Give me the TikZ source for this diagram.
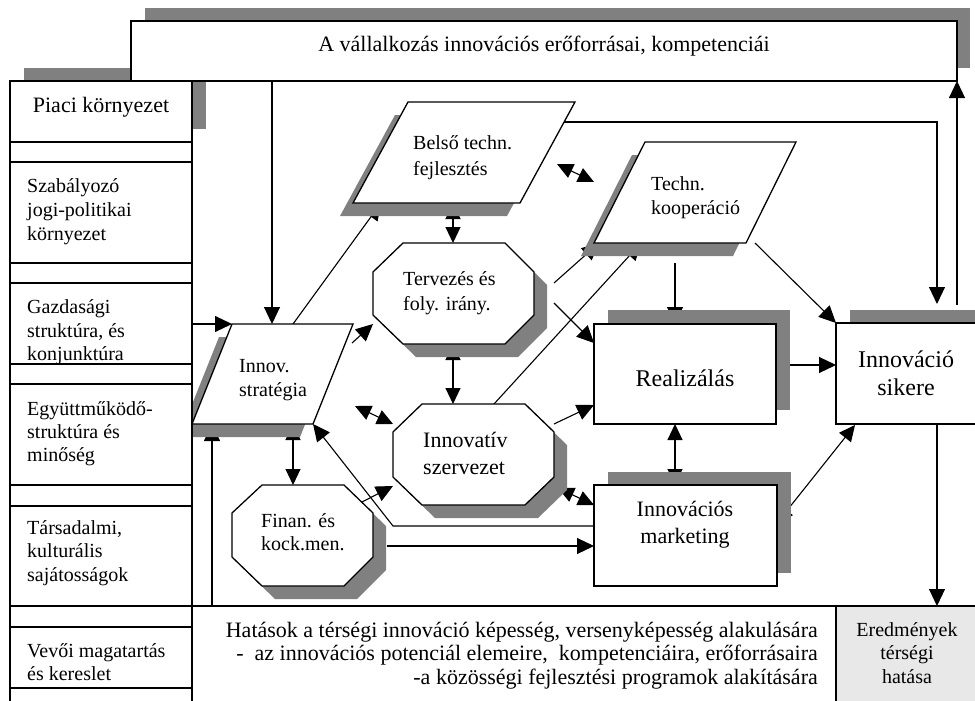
\documentclass[tikz,border=0pt]{standalone}
\usepackage{fontspec}
\setmainfont{Liberation Serif}
\usetikzlibrary{arrows.meta}
\definecolor{shadowgray}{HTML}{808080}
\definecolor{lightbox}{HTML}{E8E8E8}
\begin{document}
\begin{tikzpicture}[x=1pt,y=-1pt,
  box/.style={draw=black,line width=1.3pt,fill=white},
  shadowfill/.style={fill=shadowgray,draw=none},
  ln/.style={line width=1.1pt},
  arr/.style={line width=1.1pt,-{Triangle[length=17pt,width=16pt]}},
  darr/.style={line width=1.1pt,{Triangle[length=16pt,width=15pt]}-{Triangle[length=16pt,width=15pt]}},
  txl/.style={inner sep=0pt,anchor=base west},
  txc/.style={inner sep=0pt,anchor=base},
  txr/.style={inner sep=0pt,anchor=base east},
  fa/.style={font=\fontsize{20}{24}\selectfont},
  fb/.style={font=\fontsize{22}{24}\selectfont},
  fc/.style={font=\fontsize{24}{28}\selectfont}]
\useasboundingbox (0,0) rectangle (975,701);
\clip (0,0) rectangle (975,701);
\fill[white] (0,0) rectangle (975,701);

% ---------- connector end points ----------
\coordinate (bannerB) at (272,81);   \coordinate (stratT) at (272,324);
\coordinate (gazR) at (192,324);     \coordinate (stratTL) at (232,324);
\coordinate (botL) at (212,606);     \coordinate (stratB) at (212,424);
\coordinate (stratB2) at (293,424);  \coordinate (finT) at (293,485);
\coordinate (stratT2) at (293,324);  \coordinate (belB) at (381,203);
\coordinate (stratR) at (352,343);   \coordinate (terL) at (373,324);
\coordinate (sinA) at (355,406);     \coordinate (sinB) at (393,424);
\coordinate (belB2) at (453,203);    \coordinate (terT) at (453,243);
\coordinate (terB) at (453,344);     \coordinate (innT) at (453,404);
\coordinate (bkA) at (557,164);      \coordinate (bkB) at (594,182);
\coordinate (belR) at (564,122);     \coordinate (bsC) at (937,122);  \coordinate (sikT) at (937,304);
\coordinate (terR1) at (554,283);    \coordinate (koopB1) at (599,243);
\coordinate (terR2) at (554,303);    \coordinate (realL1) at (594,343);
\coordinate (innT2) at (494,404);    \coordinate (koopB2) at (641,243);
\coordinate (innR) at (554,424);     \coordinate (realL2) at (594,405);
\coordinate (imA) at (558,488);      \coordinate (imB) at (594,505);
\coordinate (finR) at (362,502);     \coordinate (innL) at (393,486);
\coordinate (finR2) at (387,546);    \coordinate (mktL2) at (594,546);
\coordinate (mktL) at (594,526);     \coordinate (mbC) at (393,526);  \coordinate (stratBR) at (313,424);
\coordinate (koopB3) at (675,263);   \coordinate (realT) at (675,324);
\coordinate (koopR) at (755,243);    \coordinate (sikTL) at (836,323);
\coordinate (realR) at (790,365);    \coordinate (sikL) at (836,365);
\coordinate (realB) at (675,424);    \coordinate (mktT) at (675,485);
\coordinate (mktR) at (777,523);     \coordinate (sikB) at (855,425);
\coordinate (sikT2) at (957,305);    \coordinate (bannerR) at (957,81);
\coordinate (sikB2) at (937,424);    \coordinate (eredT) at (937,606);

% ---------- connectors ----------
\draw[arr] (bannerB) -- (stratT);
\draw[arr] (gazR) -- (stratTL);
\draw[arr] (botL) -- (stratB);
\draw[darr] (stratB2) -- (finT);
\draw[arr] (stratT2) -- (belB);
\draw[arr] (stratR) -- (terL);
\draw[darr] (sinA) -- (sinB);
\draw[darr] (belB2) -- (terT);
\draw[darr] (terB) -- (innT);
\draw[darr] (bkA) -- (bkB);
\draw[arr] (belR) -- (bsC) -- (sikT);
\draw[arr] (terR1) -- (koopB1);
\draw[arr] (terR2) -- (realL1);
\draw[arr] (innT2) -- (koopB2);
\draw[arr] (innR) -- (realL2);
\draw[darr] (imA) -- (imB);
\draw[arr] (finR) -- (innL);
\draw[arr] (finR2) -- (mktL2);
\draw[arr] (mktL) -- (mbC) -- (stratBR);
\draw[arr] (koopB3) -- (realT);
\draw[arr] (koopR) -- (sikTL);
\draw[arr] (realR) -- (sikL);
\draw[darr] (realB) -- (mktT);
\draw[darr] (mktR) -- (sikB);
\draw[arr] (sikT2) -- (bannerR);
\draw[arr] (sikB2) -- (eredT);

% ---------- shadows ----------
\fill[shadowfill] (145,8) rectangle (970,68);
\fill[shadowfill] (24,68) rectangle (206,129);
\fill[shadowfill] (395,115) -- (562,115) -- (507,216) -- (340,216) -- cycle;
\fill[shadowfill] (632,155) -- (783,155) -- (733,256) -- (581,256) -- cycle;
\fill[shadowfill] (219,337) -- (340,337) -- (300,437) -- (179,437) -- cycle;
\fill[shadowfill] (416,256) -- (518,256) -- (547,285) -- (547,328) -- (518,357) -- (416,357) -- (386,328) -- (386,285) -- cycle;
\fill[shadowfill] (435,417) -- (538,417) -- (567,445) -- (567,490) -- (538,518) -- (435,518) -- (406,490) -- (406,445) -- cycle;
\fill[shadowfill] (275,498) -- (357,498) -- (386,526) -- (386,570) -- (357,599) -- (275,599) -- (245,570) -- (245,526) -- cycle;
\fill[shadowfill] (608,310) rectangle (790,410);
\fill[shadowfill] (608,472) rectangle (791,573);
\fill[shadowfill] (850,310) rectangle (1000,411);

% ---------- shapes ----------
\draw[box] (131,21) rectangle (957,81);
\draw[box] (10,81) rectangle (192,720);
\foreach \yy in {142,162,263,283,364,384,485,506,606,627,688}
  \draw[ln] (10,\yy) -- (192,\yy);
\draw[box] (192,606) rectangle (836,720);
\draw[box,fill=lightbox] (836,606) rectangle (1000,720);
\draw[box] (408,102) -- (575,102) -- (520,203) -- (353,203) -- cycle;
\draw[box] (645,142) -- (796,142) -- (746,243) -- (594,243) -- cycle;
\draw[box] (232,324) -- (353,324) -- (313,424) -- (192,424) -- cycle;
\draw[box] (403,243) -- (505,243) -- (534,272) -- (534,315) -- (505,344) -- (403,344) -- (373,315) -- (373,272) -- cycle;
\draw[box] (422,404) -- (525,404) -- (554,432) -- (554,477) -- (525,505) -- (422,505) -- (393,477) -- (393,432) -- cycle;
\draw[box] (262,485) -- (344,485) -- (373,513) -- (373,557) -- (344,586) -- (262,586) -- (232,557) -- (232,513) -- cycle;
\draw[box] (594,324) rectangle (776,424);
\draw[box] (594,485) rectangle (777,586);
\draw[box] (836,323) rectangle (1000,424);

% ---------- texts ----------
\node[txc,fb] (bantx) at (544,52) {A vállalkozás innovációs erőforrásai, kompetenciái};
\node[txc,fb] (piaci) at (101,113) {Piaci környezet};
\node[txl,fa] (sz1) at (27,192) {Szabályozó};
\node[txl,fa] (sz2) at (27,216) {jogi-politikai};
\node[txl,fa] (sz3) at (27,240) {környezet};
\node[txl,fa] (gz1) at (27,313) {Gazdasági};
\node[txl,fa] (gz2) at (27,337) {struktúra, és};
\node[txl,fa] (gz3) at (27,360) {konjunktúra};
\node[txl,fa] (eg1) at (27,415) {Együttműködő-};
\node[txl,fa] (eg2) at (27,438) {struktúra és};
\node[txl,fa] (eg3) at (27,461) {minőség};
\node[txl,fa] (ts1) at (27,534) {Társadalmi,};
\node[txl,fa] (ts2) at (27,557) {kulturális};
\node[txl,fa] (ts3) at (27,581) {sajátosságok};
\node[txl,fa] (vv1) at (27,657) {Vevői magatartás};
\node[txl,fa] (vv2) at (27,680) {és kereslet};

\node[txl,fa] (bel1) at (413,149) {Belső techn.};
\node[txl,fa] (bel2) at (413,175) {fejlesztés};
\node[txl,fa] (kop1) at (651,190) {Techn.};
\node[txl,fa] (kop2) at (651,214) {kooperáció};
\node[txl,fa] (str1) at (239,372) {Innov.};
\node[txl,fa] (str2) at (239,396) {stratégia};
\node[txl,fa] (ter1) at (403,285) {Tervezés és};
\node[txl,fa] (ter2) at (403,310) {foly. irány.};
\node[txl,fb] (inn1) at (423,447) {Innovatív};
\node[txl,fb] (inn2) at (423,474) {szervezet};
\node[txl,fa] (fin1) at (261,527) {Finan. és};
\node[txl,fa] (fin2) at (261,550) {kock.men.};
\node[txc,fc] (real) at (685,386) {Realizálás};
\node[txc,fb] (mkt1) at (685,516) {Innovációs};
\node[txc,fb] (mkt2) at (685,543) {marketing};
\node[txc,fc] (sik1) at (906,367) {Innováció};
\node[txc,fc] (sik2) at (906,395) {sikere};
\node[txc,fa] (er1) at (907,636) {Eredmények};
\node[txc,fa] (er2) at (907,659) {térségi};
\node[txc,fa] (er3) at (907,683) {hatása};
\node[txr,fb] (hat1) at (818,637) {Hatások a térségi innováció képesség, versenyképesség alakulására};
\node[txr,fb] (hat2) at (818,660) {-\ \ az innovációs potenciál elemeire,\ \ kompetenciáira, erőforrásaira};
\node[txr,fb] (hat3) at (818,684) {-a közösségi fejlesztési programok alakítására};
\end{tikzpicture}
\end{document}
